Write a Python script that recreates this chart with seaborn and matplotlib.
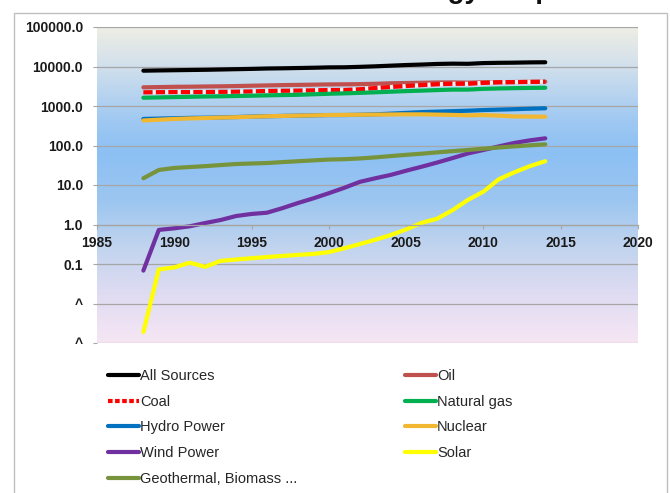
import pandas as pd
import seaborn as sns
import matplotlib.pyplot as plt
from matplotlib.lines import Line2D
from matplotlib.colors import LinearSegmentedColormap
from matplotlib.patches import Rectangle
from matplotlib.ticker import NullLocator
import numpy as np

# values (log scale)
years = list(range(1988, 2015))
all_sources = [7830, 7950, 8050, 8150, 8250, 8400, 8550, 8700, 8900, 9000, 9150, 9300, 9500, 9550,
               9800, 10100, 10500, 10900, 11200, 11600, 11800, 11700, 12200, 12400, 12500, 12700, 12800]
oil = [2970, 3010, 3060, 3080, 3120, 3150, 3200, 3260, 3320, 3380, 3420, 3470, 3520, 3540,
       3580, 3650, 3760, 3820, 3880, 3940, 3960, 3900, 3980, 4020, 4050, 4080, 4120]
coal = [2220, 2240, 2260, 2250, 2260, 2280, 2300, 2340, 2400, 2430, 2450, 2490, 2540, 2540,
        2650, 2850, 3020, 3200, 3380, 3550, 3650, 3650, 3850, 3980, 4020, 4080, 4120]
natural_gas = [1620, 1650, 1680, 1710, 1740, 1760, 1790, 1820, 1860, 1890, 1920, 1980, 2040, 2090,
               2150, 2220, 2300, 2380, 2450, 2530, 2600, 2600, 2720, 2780, 2830, 2870, 2900]
hydro = [470, 480, 490, 500, 505, 515, 525, 540, 550, 560, 570, 580, 590, 590,
         600, 615, 640, 670, 700, 720, 740, 760, 790, 810, 830, 855, 875]
nuclear = [430, 450, 470, 485, 495, 510, 520, 535, 550, 560, 570, 580, 590, 595,
           600, 605, 610, 615, 615, 605, 595, 580, 590, 570, 545, 540, 535]
wind = [0.068, 0.73, 0.8, 0.9, 1.09, 1.3, 1.64, 1.85, 1.99, 2.6, 3.5, 4.6, 6.2, 8.5,
        12, 14.8, 18, 23, 29, 37, 48, 63, 77, 95, 116, 135, 152]
solar = [0.0019, 0.073, 0.082, 0.108, 0.085, 0.12, 0.13, 0.14, 0.15, 0.16, 0.17, 0.18, 0.2, 0.25,
         0.32, 0.41, 0.54, 0.75, 1.1, 1.4, 2.3, 4.2, 6.8, 14, 21, 30, 40]
geothermal = [14.8, 24, 27, 28.5, 30, 32, 34, 35, 36, 38, 40, 42, 44, 45,
              47, 50, 54, 58, 62, 67, 72, 77, 83, 89, 95, 101, 107]

names = ['All Sources', 'Oil', 'Coal', 'Natural gas', 'Hydro Power', 'Nuclear',
         'Wind Power', 'Solar', 'Geothermal, Biomass ...']
series = [all_sources, oil, coal, natural_gas, hydro, nuclear, wind, solar, geothermal]
colors = ['#000000', '#C0504D', '#FF0000', '#00B050', '#0070C0', '#F2B731',
          '#7030A0', '#FFFF00', '#77933C']

df = pd.DataFrame({
    'Year': years * len(names),
    'Source': [n for n in names for _ in years],
    'Value': [v for s in series for v in s],
})

sns.set_style('white')
plt.rcParams['font.family'] = ['Liberation Sans', 'DejaVu Sans']

fig = plt.figure(figsize=(6.7, 4.93), dpi=100)
ax = fig.add_axes([97 / 670, 1 - 343 / 493, (638 - 97) / 670, (343 - 27) / 493])

# plot area gradient (top beige -> blue -> lavender/pink)
cmap = LinearSegmentedColormap.from_list('bg', [
    (0.0, '#EEEEE4'), (0.12, '#D2E0EC'), (0.3, '#9EC8F2'), (0.4, '#8CC0F4'),
    (0.55, '#9CC6F0'), (0.7, '#C2D4EE'), (0.85, '#E0DCF2'), (1.0, '#F6E6F4')])
ax.imshow(np.linspace(0, 1, 256).reshape(-1, 1), cmap=cmap, aspect='auto',
          extent=(0, 1, 0, 1), transform=ax.transAxes, zorder=0)

ax.set_yscale('log')
dash_map = {n: '' for n in names}
dash_map['Coal'] = (2.2, 0.8)
sns.lineplot(data=df, x='Year', y='Value', hue='Source', hue_order=names,
             palette=colors, style='Source', style_order=names, dashes=dash_map,
             linewidth=3, legend=False, ax=ax)
for ln in ax.lines:
    ln.set_solid_capstyle('round')
    ln.set_solid_joinstyle('round')
    if ln.get_linestyle() != '-':
        ln.set_gapcolor('#F4F4F4')

ax.set_xlim(1985, 2020)
ax.set_ylim(1e-3, 1e5)
ax.set_xticks(range(1985, 2021, 5))
ax.set_yticks([10.0 ** k for k in range(-3, 6)])
ax.set_yticklabels(['^', '^', '0.1', '1.0', '10.0', '100.0', '1000.0', '10000.0', '100000.0'])
ax.yaxis.set_minor_locator(NullLocator())
ax.set_xlabel('')
ax.set_ylabel('')

ax.grid(axis='y', color='#A6A6A6', lw=0.9)
ax.grid(axis='x', visible=False)
ax.set_axisbelow('line')
for side in ['left', 'top', 'right']:
    ax.spines[side].set_visible(False)
ax.spines['bottom'].set_position(('data', 1))
ax.spines['bottom'].set_color('#A6A6A6')
ax.spines['bottom'].set_linewidth(0.9)
ax.tick_params(axis='y', left=True, length=3, color='#A6A6A6', pad=7, labelsize=10, labelcolor='#1A1A1A')
ax.tick_params(axis='x', bottom=True, length=3, color='#A6A6A6', pad=5, labelsize=10, labelcolor='#1A1A1A')
for lab in ax.get_xticklabels() + ax.get_yticklabels():
    lab.set_fontweight('bold')

# legend, two columns in row order like the original
def handle(i):
    return Line2D([], [], color=colors[i], lw=3, linestyle=(0, (1.1, 0.6)) if names[i] == 'Coal' else '-')

left_idx = [0, 2, 4, 6, 8]
right_idx = [1, 3, 5, 7]
for idx, x0 in [(left_idx, 108), (right_idx, 405)]:
    fig.legend([handle(i) for i in idx], [names[i] for i in idx], loc='upper left',
               bbox_to_anchor=(x0 / 670, 1 - 369 / 493), frameon=False, fontsize=10.5,
               handlelength=2.1, handletextpad=0.1, labelspacing=0.8, borderpad=0,
               borderaxespad=0)

# title mostly cut off at the top edge, only descenders show
fig.text(300 / 670, 1 + 2 / 493, 'World Energy Output', fontsize=20, fontweight='bold',
         va='baseline', ha='left', color='#111111')

# chart area frame
fig.patches.append(Rectangle((14 / 670, -0.01), 653 / 670, 1 - 13 / 493 + 0.01,
                             transform=fig.transFigure, fill=False, edgecolor='#BFBFBF', lw=1))

fig.savefig('out.png', dpi=100)
